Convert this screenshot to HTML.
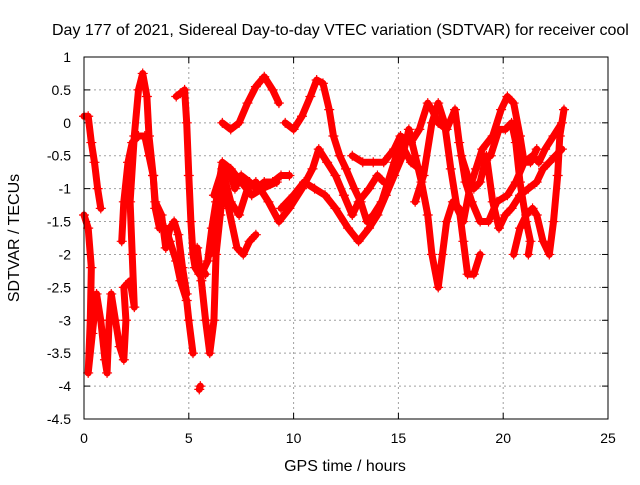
<!DOCTYPE html>
<html><head><meta charset="utf-8"><style>
body{margin:0;background:#fff}
svg text{font-family:"Liberation Sans",sans-serif;font-size:14px;fill:#000}
svg text.big{font-size:16px}
</style></head><body>
<svg id="chart" width="640" height="480">
<rect width="640" height="480" fill="#fff"/>
<text class="big" x="52" y="35">Day 177 of 2021, Sidereal Day-to-day VTEC variation (SDTVAR) for receiver cool</text>
<text class="big" x="345" y="471" text-anchor="middle">GPS time / hours</text>
<text class="big" transform="translate(19,238) rotate(-90)" text-anchor="middle">SDTVAR / TECUs</text>
<g id="grid"></g><g id="ticks"></g><g id="marks"></g>
<rect x="84" y="57" width="524" height="362" fill="none" stroke="#000" stroke-width="1"/>
</svg>
<script>
const xTicks=[0,5,10,15,20,25];
const yTicks=[1,0.5,0,-0.5,-1,-1.5,-2,-2.5,-3,-3.5,-4,-4.5];
const T1=[[0,0.1],[0.2,0.1],[0.35,-0.3],[0.5,-0.6],[0.65,-1.0],[0.8,-1.3]];
const T2=[[0,-1.4],[0.2,-1.6],[0.35,-2.2],[0.3,-3.0],[0.2,-3.8],[0.4,-3.2],[0.6,-2.6],[0.8,-3.0],[1.0,-3.6],[1.1,-3.8],[1.2,-3.0],[1.3,-2.6],[1.5,-3.0],[1.7,-3.4],[1.9,-3.6],[2.0,-3.0],[1.9,-2.5],[2.2,-2.4],[2.4,-2.8],[2.3,-2.0],[2.2,-1.2],[2.4,-0.2],[2.6,0.5],[2.8,0.75],[3.0,0.4],[3.1,-0.2],[3.3,-0.8],[3.4,-1.3],[3.6,-1.6],[3.9,-1.6],[4.1,-1.8],[4.4,-2.1],[4.6,-2.4],[4.9,-2.7],[5.0,-3.0],[5.2,-3.5]];
const T3=[[1.8,-1.8],[1.9,-1.2],[2.1,-0.6],[2.3,-0.3],[2.6,-0.2],[2.9,-0.2],[3.1,-0.5],[3.3,-0.8],[3.4,-1.2],[3.7,-1.4],[3.9,-1.9],[4.1,-1.6],[4.3,-1.5],[4.5,-1.7],[4.7,-2.2],[4.9,-2.6]];
const T4=[[4.4,0.4],[4.6,0.45],[4.8,0.5],[4.9,0.0],[5.0,-0.8],[5.1,-1.5],[5.2,-2.0],[5.3,-2.2],[5.5,-2.3],[5.6,-2.2],[5.8,-2.3]];
const T5=[[5.4,-1.9],[5.6,-2.4],[5.8,-3.0],[6.0,-3.5],[6.2,-3.0],[6.3,-2.0],[6.5,-1.4],[6.7,-0.8],[6.9,-0.7],[7.2,-1.0],[7.5,-0.8],[7.9,-0.9],[8.2,-1.0],[8.6,-0.9],[9.0,-0.9],[9.4,-0.8],[9.8,-0.8]];
const T6=[[5.6,-2.3],[5.9,-2.1],[6.1,-1.6],[6.3,-1.2],[6.5,-0.9],[6.9,-1.3],[7.3,-1.9],[7.6,-2.0],[7.9,-1.8],[8.2,-1.7]];
const T7=[[6.0,-2.0],[6.2,-1.7],[6.4,-1.0],[6.6,-0.6],[7.0,-0.7],[7.5,-0.9],[8.0,-1.1],[8.5,-1.0],[9.2,-0.9]];
const T8=[[6.6,0.0],[7.0,-0.1],[7.4,0.0],[7.8,0.3],[8.2,0.55],[8.6,0.7],[9.0,0.5],[9.3,0.3]];
const T9=[[6.2,-1.1],[6.6,-0.7],[7.0,-1.2],[7.4,-1.4],[7.8,-1.0],[8.2,-0.9],[8.8,-1.2],[9.3,-1.5],[9.8,-1.3],[10.4,-1.0],[10.9,-0.7],[11.2,-0.4],[11.6,-0.6],[12.0,-0.8],[12.4,-1.1],[12.8,-1.4],[13.1,-1.2],[13.6,-1.0],[14.0,-0.8],[14.3,-0.9]];
const T10=[[9.6,0.0],[10.0,-0.1],[10.4,0.1],[10.8,0.4],[11.1,0.65],[11.4,0.6],[11.7,0.2],[11.9,-0.2],[12.2,-0.5],[12.5,-0.7],[12.9,-1.0],[13.2,-1.2],[13.5,-1.5],[13.8,-1.4],[14.2,-1.2],[14.5,-0.9],[14.8,-0.6],[15.1,-0.3],[15.6,-0.6],[16.0,-0.7]];
const T11=[[9.4,-1.3],[10.0,-1.1],[10.5,-0.9],[11.0,-1.0],[11.5,-1.1],[12.0,-1.3],[12.6,-1.6],[13.1,-1.8],[13.6,-1.6],[14.0,-1.4],[14.4,-1.1],[14.8,-0.8],[15.2,-0.5],[15.5,-0.1],[15.8,-0.5],[16.1,-0.9],[16.4,-1.4],[16.6,-2.0],[16.9,-2.5],[17.1,-2.0],[17.3,-1.5],[17.6,-1.2],[17.9,-1.3],[18.1,-1.8],[18.3,-2.3],[18.6,-2.3],[18.9,-2.0]];
const T12=[[12.8,-0.5],[13.3,-0.6],[13.8,-0.6],[14.3,-0.6],[14.8,-0.4],[15.1,-0.2],[15.6,-0.3],[16.0,-0.1],[16.4,0.3],[16.6,0.2],[16.9,0.0],[17.3,-0.1],[17.7,0.2],[17.9,-0.3],[18.2,-0.9],[18.5,-1.2],[18.9,-1.5],[19.3,-1.5],[19.7,-1.2],[20.2,-1.1],[20.6,-0.9],[21.0,-0.6],[21.4,-0.5],[21.7,-0.6],[22.0,-0.4],[22.4,-0.2],[22.8,0.0]];
const T13=[[15.8,-1.2],[16.2,-0.8],[16.6,0.0],[16.9,0.3],[17.2,0.0],[17.5,-0.7],[17.8,-1.3],[18.1,-1.5],[18.4,-1.0],[18.7,-0.7],[19.0,-0.4],[19.5,-0.2],[19.9,0.2],[20.2,0.4],[20.5,0.3],[20.8,-0.2],[21.0,-0.6],[21.3,-0.6],[21.6,-0.4]];
const T14=[[19.4,-0.5],[19.8,-0.1],[20.1,-0.1],[20.4,0.0],[20.6,-0.3],[20.8,-0.9],[21.1,-1.5],[21.3,-1.8],[21.2,-2.0]];
const T15=[[18.0,-0.5],[18.3,-0.8],[18.6,-1.0],[18.9,-0.9],[19.2,-0.5],[19.5,-1.2],[19.8,-1.6],[20.1,-1.4],[20.4,-1.3],[20.8,-1.1],[21.2,-1.0],[21.6,-0.9],[21.9,-0.7],[22.2,-0.6],[22.5,-0.5],[22.8,-0.4]];
const T16=[[20.5,-2.0],[20.8,-1.6],[21.1,-1.4],[21.4,-1.3],[21.6,-1.4],[21.9,-1.8],[22.2,-2.0],[22.4,-1.5],[22.6,-0.8],[22.7,-0.2],[22.9,0.2]];
const T17=[[5.5,-4.05],[5.55,-4.0]];
const tracks=[T1,T2,T3,T4,T5,T6,T7,T8,T9,T10,T11,T12,T13,T14,T15,T16,T17];
const NS="http://www.w3.org/2000/svg";
const X0=84,X1=608,Y0=419,Y1=57;
function xs(h){return X0+(h-0)/(25-0)*(X1-X0);}
function ys(v){return Y0-(v-(-4.5))/(1-(-4.5))*(Y0-Y1);}
const grid=document.getElementById('grid'),ticks=document.getElementById('ticks'),marks=document.getElementById('marks');
function mk(tag,attrs,parent){const e=document.createElementNS(NS,tag);for(const k in attrs)e.setAttribute(k,attrs[k]);parent.appendChild(e);return e;}
xTicks.forEach(t=>{
  const x=xs(t);
  if(t>0&&t<25){const g=mk('line',{x1:x,x2:x,y1:Y1,y2:Y0,stroke:'#a0a0a0','stroke-dasharray':'2,3'},grid);
  
  }
  mk('line',{x1:x,x2:x,y1:Y0,y2:Y0-6,stroke:'#000'},ticks);
  mk('line',{x1:x,x2:x,y1:Y1,y2:Y1+6,stroke:'#000'},ticks);
  const tx=mk('text',{x:x,y:443,'text-anchor':'middle'},ticks);tx.textContent=t;
  
  
});
yTicks.forEach(t=>{
  const y=ys(t);
  if(t<1&&t>-4.5){const g=mk('line',{x1:X0,x2:X1,y1:y,y2:y,stroke:'#a0a0a0','stroke-dasharray':'2,3'},grid);
  
  }
  mk('line',{x1:X0,x2:X0+6,y1:y,y2:y,stroke:'#000'},ticks);
  mk('line',{x1:X1,x2:X1-6,y1:y,y2:y,stroke:'#000'},ticks);
  const tx=mk('text',{x:71,y:y+5,'text-anchor':'end'},ticks);tx.textContent=t;
  
  
});
tracks.forEach((tr,i)=>{
  const pts=tr.map(p=>xs(p[0])+','+ys(p[1])).join(' ');
  const pl=mk('polyline',{points:pts,fill:'none',stroke:'#ff0000','stroke-width':7,'stroke-linejoin':'round','stroke-linecap':'round'},marks);
  
  
  tr.forEach(p=>{
    const x=xs(p[0]),y=ys(p[1]);
    const m=mk('path',{d:`M${x-5},${y}H${x+5}M${x},${y-5}V${y+5}`,stroke:'#ff0000','stroke-width':1.2},marks);
    
    
  });
});
</script>
</body></html>
